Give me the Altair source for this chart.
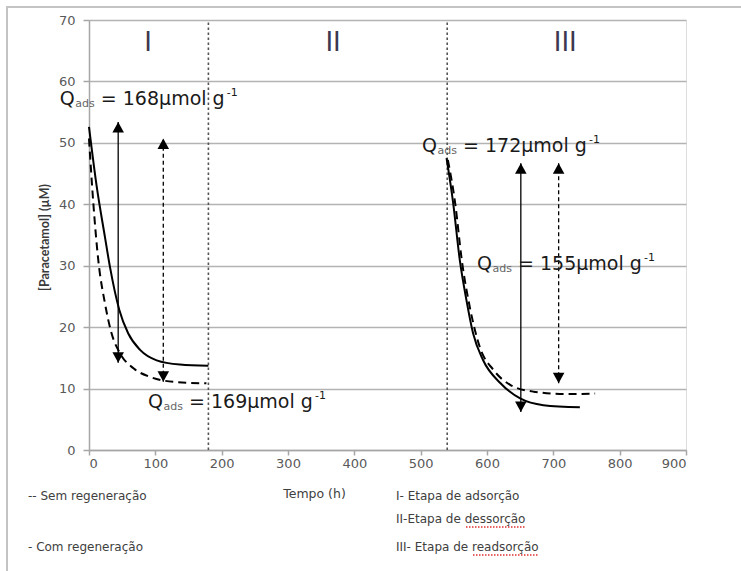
import altair as alt
import pandas as pd

# ---- data ----
com_I_x = [0, 11.6, 24, 31.6, 45.7, 59, 77, 102, 137, 180]
com_I_y = [52.6, 42.9, 34.7, 29.8, 22.8, 19.0, 16.3, 14.6, 13.9, 13.7]
sem_I_x = [0, 6.5, 14, 24, 34, 47, 67, 92, 127, 177]
sem_I_y = [50.7, 40.2, 30.9, 23.9, 19.0, 15.7, 13.3, 11.9, 11.1, 10.85]
com_III_x = [539, 549, 559, 569, 579, 594, 620, 650, 685, 740]
com_III_y = [47.5, 40.2, 30.9, 24.4, 19.0, 14.65, 10.9, 8.4, 7.3, 6.95]
sem_III_x = [541, 552, 562, 574, 589, 610, 635, 670, 720, 763]
sem_III_y = [47.2, 40.2, 30.9, 23.3, 16.8, 13.0, 10.6, 9.5, 9.1, 9.2]

arrow_x = [44, 112, 651, 708]
arrow_lo = [14.2, 11.1, 6.2, 10.85]
arrow_hi = [53.4, 50.7, 46.7, 46.7]
arrow_style = ["com", "sem", "com", "sem"]

sep_x = [180, 540]

roman = ["I", "II", "III"]
roman_x = [89, 368, 718]
roman_y = [66.3, 66.3, 66.3]

ann_x = [-44, 89, 502, 585]
ann_y = [57.1, 7.8, 49.5, 30.3]
ann_val = ["168", "169", "172", "155"]

x_ticks = [0, 100, 200, 300, 400, 500, 600, 700, 800, 900]
y_ticks = [0, 10, 20, 30, 40, 50, 60, 70]

# ---- tables ----
def curve(xs, ys, series, phase):
    return pd.DataFrame({"t": xs, "c": ys, "series": series, "phase": phase})

curves = pd.concat([
    curve(com_I_x, com_I_y, "com", "I"),
    curve(sem_I_x, sem_I_y, "sem", "I"),
    curve(com_III_x, com_III_y, "com", "III"),
    curve(sem_III_x, sem_III_y, "sem", "III"),
], ignore_index=True)

arrows = pd.DataFrame({"t": arrow_x, "lo": arrow_lo, "hi": arrow_hi, "style": arrow_style})
seps = pd.DataFrame({"t": sep_x, "lo": [0] * len(sep_x), "hi": [70] * len(sep_x)})
romans = pd.DataFrame({"t": roman_x, "c": roman_y, "txt": roman})
anns = pd.DataFrame({"t": ann_x, "c": ann_y, "main": ["= " + v + "µmol g" for v in ann_val]})

FONT = "DejaVu Sans"
xs = alt.Scale(domain=[0, 900], nice=False, zero=False)
ys = alt.Scale(domain=[0, 70], nice=False)

X = alt.X("t:Q", scale=xs, axis=alt.Axis(
    values=x_ticks, grid=False, title="Tempo (h)", titleX=225, titleY=43,
    titleBaseline="middle", titleFont=FONT, titleFontSize=12.5, titleFontWeight="normal",
    titleColor="#404040", labelFont=FONT, labelFontSize=13, labelColor="#595959",
    domainColor="#a6a6a6", domainWidth=1.5, tickColor="#a6a6a6", tickSize=5, tickWidth=1.5,
    labelPadding=2))
Y_axis = alt.Axis(
    values=y_ticks, grid=True, gridColor="#b3b3b3", gridWidth=1.5,
    title="[Paracetamol] (µM)", titleX=-45, titleY=217, titleAngle=-90,
    titleAlign="center", titleBaseline="middle", titleFont="Lato", titleFontSize=12.5,
    titleFontWeight="bold", titleColor="#3a3a3a",
    labelFont=FONT, labelFontSize=13, labelColor="#595959",
    domainColor="#a6a6a6", domainWidth=1.5, tickColor="#a6a6a6", tickSize=6, tickWidth=1.5,
    labelPadding=8)

one = pd.DataFrame({"a": [0]})

frame = alt.Chart(one).mark_rect(fillOpacity=0, stroke="#c4c4c4", strokeWidth=2).encode(
    x=alt.value(-82), x2=alt.value(720), y=alt.value(-13), y2=alt.value(640))

base_axes = alt.Chart(curves).mark_line(opacity=0).encode(
    x=X, y=alt.Y("c:Q", scale=ys, axis=Y_axis), detail="phase:N")

sep_layer = alt.Chart(seps).mark_rule(color="#555555", strokeWidth=1.6, strokeDash=[2.5, 2.5]).encode(
    x=alt.X("t:Q", scale=xs), y=alt.Y("lo:Q", scale=ys), y2="hi:Q")

com_line = alt.Chart(curves).transform_filter(alt.datum.series == "com").mark_line(
    color="#000000", strokeWidth=2, interpolate="monotone").encode(
    x=alt.X("t:Q", scale=xs), y=alt.Y("c:Q", scale=ys), detail="phase:N")
sem_line = alt.Chart(curves).transform_filter(alt.datum.series == "sem").mark_line(
    color="#000000", strokeWidth=2, strokeDash=[8, 5], interpolate="monotone").encode(
    x=alt.X("t:Q", scale=xs), y=alt.Y("c:Q", scale=ys), detail="phase:N")

arr_com = alt.Chart(arrows).transform_filter(alt.datum.style == "com").mark_rule(
    color="#000000", strokeWidth=1.3).encode(
    x=alt.X("t:Q", scale=xs), y=alt.Y("lo:Q", scale=ys), y2="hi:Q")
arr_sem = alt.Chart(arrows).transform_filter(alt.datum.style == "sem").mark_rule(
    color="#000000", strokeWidth=1.3, strokeDash=[4, 3]).encode(
    x=alt.X("t:Q", scale=xs), y=alt.Y("lo:Q", scale=ys), y2="hi:Q")
head_up = alt.Chart(arrows).mark_point(
    shape="M0,0L-0.55,1L0.55,1Z", filled=True, color="#000000", size=441, opacity=1).encode(
    x=alt.X("t:Q", scale=xs), y=alt.Y("hi:Q", scale=ys))
head_dn = alt.Chart(arrows).mark_point(
    shape="M0,0L-0.55,-1L0.55,-1Z", filled=True, color="#000000", size=441, opacity=1).encode(
    x=alt.X("t:Q", scale=xs), y=alt.Y("lo:Q", scale=ys))

roman_layer = alt.Chart(romans).mark_text(
    font=FONT, fontSize=26, color="#3d3850", align="center", baseline="middle").encode(
    x=alt.X("t:Q", scale=xs), y=alt.Y("c:Q", scale=ys), text="txt:N")

QS = 19
q_layer = alt.Chart(anns).mark_text(
    text="Q", font=FONT, fontSize=QS, color="#1a1a1a", align="left", baseline="middle").encode(
    x=alt.X("t:Q", scale=xs), y=alt.Y("c:Q", scale=ys))
sub_layer = alt.Chart(anns).mark_text(
    text="ads", font=FONT, fontSize=11, color="#666666", align="left", baseline="middle",
    dx=15.5, dy=5).encode(x=alt.X("t:Q", scale=xs), y=alt.Y("c:Q", scale=ys))
main_layer = alt.Chart(anns).mark_text(
    font=FONT, fontSize=QS, color="#1a1a1a", align="left", baseline="middle", dx=41).encode(
    x=alt.X("t:Q", scale=xs), y=alt.Y("c:Q", scale=ys), text="main:N")
sup_layer = alt.Chart(anns).mark_text(
    text="-1", font=FONT, fontSize=11, color="#1a1a1a", align="left", baseline="middle",
    dx=167, dy=-6).encode(x=alt.X("t:Q", scale=xs), y=alt.Y("c:Q", scale=ys))


def note(txt, px, py, size=12, color="#404040"):
    return alt.Chart(one).mark_text(
        text=txt, font=FONT, fontSize=size, color=color, align="left", baseline="middle").encode(
        x=alt.value(px), y=alt.value(py))


notes = [
    note("-- Sem regeneração", -61, 476),
    note("- Com regeneração", -61, 527),
    note("I- Etapa de adsorção", 307, 476),
    note("II-Etapa de dessorção", 307, 499),
    note("III- Etapa de readsorção", 307, 527),
]

squig = alt.Chart(one).mark_rule(
    color="#e03030", strokeWidth=1.4, strokeDash=[1.5, 1.5]).encode(
    x=alt.value(377), x2=alt.value(437), y=alt.value(507))
squig2 = alt.Chart(one).mark_rule(
    color="#e03030", strokeWidth=1.4, strokeDash=[1.5, 1.5]).encode(
    x=alt.value(384), x2=alt.value(450), y=alt.value(535))

chart = alt.layer(
    frame, base_axes, sep_layer, com_line, sem_line, arr_com, arr_sem, head_up, head_dn,
    roman_layer, q_layer, sub_layer, main_layer, sup_layer, *notes, squig, squig2
).properties(
    width=597, height=430, autosize="none",
    padding={"left": 89, "top": 20, "right": 55, "bottom": 121},
).configure_view(stroke=None).configure(background="white")

chart.save("out.html", embed_options={"renderer": "svg", "actions": False})
